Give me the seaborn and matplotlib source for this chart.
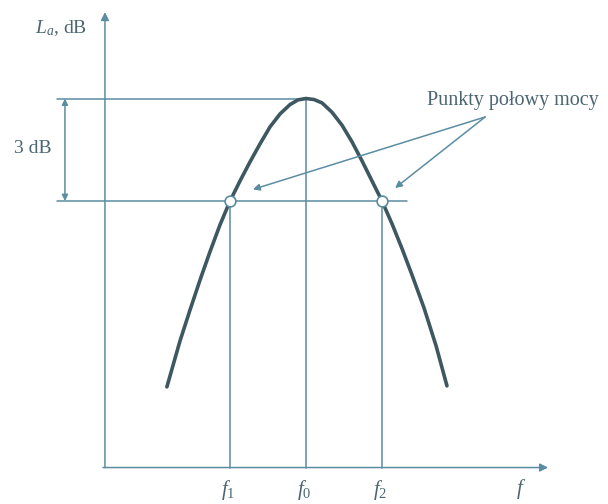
import matplotlib
matplotlib.use("Agg")
import matplotlib.pyplot as plt
import pandas as pd
import seaborn as sns

# Resonance curve: frequency relative to f0, level relative to the peak (dB)
freq = [0.308, 0.373, 0.423, 0.473, 0.522, 0.572, 0.622, 0.672, 0.721, 0.771,
        0.821, 0.871, 0.920, 0.960, 1.0, 1.040, 1.080, 1.129, 1.179, 1.229,
        1.279, 1.328, 1.378, 1.428, 1.478, 1.527, 1.587, 1.647, 1.701]
level = [-8.44, -7.10, -6.19, -5.31, -4.49, -3.70, -3.00, -2.41, -1.86, -1.33,
         -0.83, -0.45, -0.18, -0.04, 0.0, -0.03, -0.13, -0.40, -0.78, -1.27,
         -1.83, -2.41, -3.00, -3.67, -4.40, -5.16, -6.13, -7.24, -8.41]

# Characteristic frequencies and levels
f1, f0, f2 = 0.622, 1.0, 1.378
peak_db = 0.0
half_db = -3.0
axis_db = -10.8          # level where the frequency axis is drawn
f_axis_end = 2.204       # end of the frequency axis arrow
db_axis_end = 2.53       # end of the level axis arrow
ref_left = -0.239        # left end of the reference lines
half_line_end = 1.502    # right end of the half-power line
dim_x = -0.199           # x of the 3 dB dimension arrow

labels_f = [r"$f_1$", r"$f_0$", r"$f_2$"]
label_f_axis = r"$f$"
label_level = r"$L_a$, dB"
label_3db = "3 dB"
label_points = "Punkty połowy mocy"
pointer_tail = (1.891, -0.54)
pointer_heads = [(0.736, -2.66), (1.443, -2.62)]

sns.set_theme(style="white")
plt.rcParams["font.family"] = ["Liberation Serif", "DejaVu Serif"]
plt.rcParams["mathtext.fontset"] = "custom"
plt.rcParams["mathtext.rm"] = "Liberation Serif"
plt.rcParams["mathtext.it"] = "Liberation Serif:italic"

thin = "#5b8da2"
curve_c = "#3e5862"
text_c = "#4b6671"

fig = plt.figure(figsize=(6.08, 5.04), dpi=100)
ax = fig.add_axes([0, 0, 1, 1])
ax.set_xlim(-0.522, 2.502)
ax.set_ylim(-11.867, 2.883)
ax.axis("off")

lw = 1.1
# coordinate axes with arrowheads
ax.annotate("", xy=(0, db_axis_end), xytext=(0, axis_db),
            arrowprops=dict(arrowstyle="-|>", color=thin, lw=lw,
                            mutation_scale=12, shrinkA=0, shrinkB=0))
ax.annotate("", xy=(f_axis_end, axis_db), xytext=(-0.01, axis_db),
            arrowprops=dict(arrowstyle="-|>", color=thin, lw=lw,
                            mutation_scale=12, shrinkA=0, shrinkB=0))

# reference lines at the peak and at the half-power level
ax.plot([ref_left, f0], [peak_db, peak_db], color=thin, lw=lw)
ax.plot([ref_left, half_line_end], [half_db, half_db], color=thin, lw=lw)

# vertical lines at f1, f0, f2
for fx, top in zip([f1, f0, f2], [half_db, peak_db, half_db]):
    ax.plot([fx, fx], [axis_db, top], color=thin, lw=lw)

# 3 dB dimension arrow
ax.annotate("", xy=(dim_x, peak_db), xytext=(dim_x, half_db),
            arrowprops=dict(arrowstyle="<|-|>", color=thin, lw=lw,
                            mutation_scale=9, shrinkA=0, shrinkB=0))
ax.text(-0.358, -1.45, label_3db, color=text_c, fontsize=14,
        ha="center", va="center")

# the curve
df = pd.DataFrame({"f": freq, "L": level})
sns.lineplot(data=df, x="f", y="L", ax=ax, color=curve_c, lw=2.6,
             sort=False, estimator=None)
ax.lines[-1].set_solid_joinstyle("round")
ax.lines[-1].set_solid_capstyle("round")

# half-power points
ax.scatter([f1, f2], [half_db, half_db], s=60, facecolor="white",
           edgecolor=thin, linewidth=1.2, zorder=5)

# pointer arrows
for hx, hy in pointer_heads:
    ax.annotate("", xy=(hx, hy), xytext=pointer_tail,
                arrowprops=dict(arrowstyle="-|>", color=thin, lw=lw,
                                mutation_scale=10, shrinkA=0, shrinkB=0))
ax.text(2.028, -0.06, label_points, color=text_c, fontsize=14.5,
        ha="center", va="center")

# axis labels
ax.text(-0.348, 2.05, label_level, color=text_c, fontsize=14,
        ha="left", va="center")
for fx, lab in zip([f1, f0, f2], labels_f):
    ax.text(fx - 0.01, -11.45, lab, color=text_c, fontsize=15,
            ha="center", va="center")
ax.text(2.07, -11.42, label_f_axis, color=text_c, fontsize=15,
        ha="center", va="center")

fig.savefig("out.png", dpi=100)
